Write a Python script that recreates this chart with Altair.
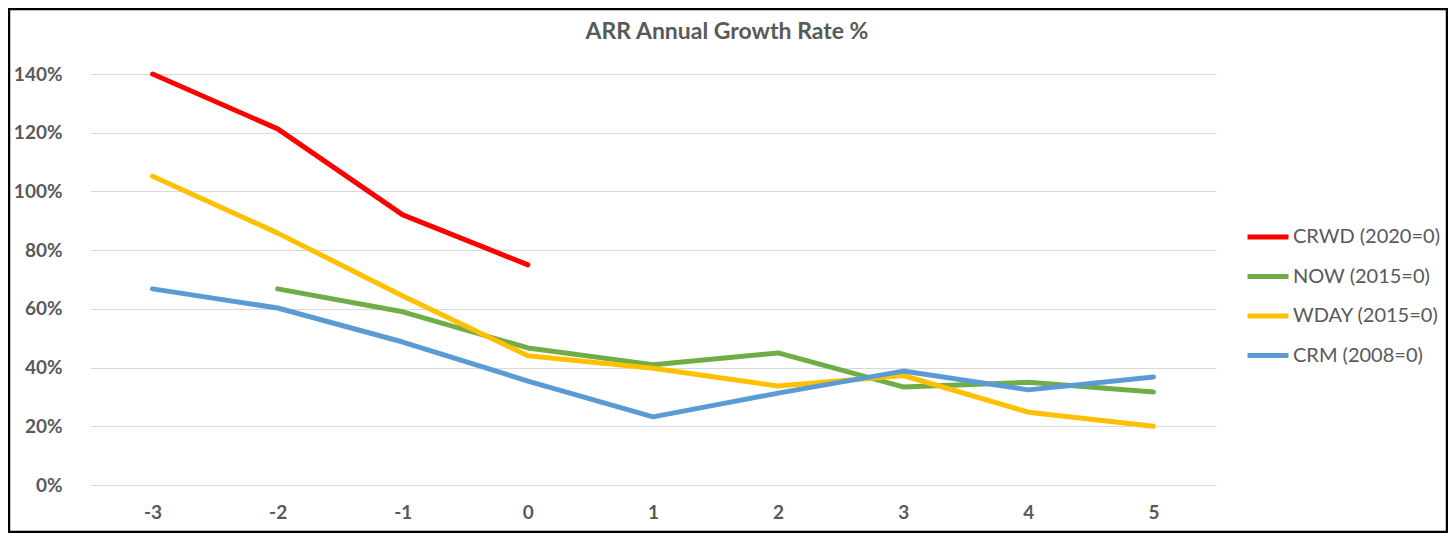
import altair as alt
import pandas as pd

categories = ["-3", "-2", "-1", "0", "1", "2", "3", "4", "5"]
series_names = ["CRWD (2020=0)", "NOW (2015=0)", "WDAY (2015=0)", "CRM (2008=0)"]
crwd = [1.40, 1.213, 0.92, 0.75, None, None, None, None, None]
now = [None, 0.668, 0.59, 0.467, 0.41, 0.45, 0.334, 0.35, 0.317]
wday = [1.052, 0.858, 0.644, 0.44, 0.398, 0.337, 0.373, 0.248, 0.20]
crm = [0.668, 0.603, 0.487, 0.354, 0.232, 0.313, 0.388, 0.324, 0.368]
colors = ["#FF0000", "#70AD47", "#FFC000", "#5B9BD5"]
title_text = "ARR Annual Growth Rate %"

rows = []
for name, vals in zip(series_names, [crwd, now, wday, crm]):
    for c, v in zip(categories, vals):
        if v is not None:
            rows.append({"period": c, "series": name, "value": v})
df = pd.DataFrame(rows)

FONT = "Lato"
GREY = "#595959"

lines = alt.Chart(df).mark_line(strokeWidth=5, strokeCap="round", strokeJoin="round").encode(
    x=alt.X("period:N", sort=categories,
            scale=alt.Scale(type="point", padding=0.5),
            axis=alt.Axis(title=None, labelAngle=0, domain=False, ticks=False,
                          labelPadding=18, labelFontSize=19, labelFontWeight="bold",
                          labelColor=GREY, labelFont=FONT, grid=False)),
    y=alt.Y("value:Q", scale=alt.Scale(domain=[0, 1.4], nice=False),
            axis=alt.Axis(title=None, format=".0%", values=[0, 0.2, 0.4, 0.6, 0.8, 1.0, 1.2, 1.4],
                          domain=False, ticks=False, labelPadding=28, labelFontSize=19,
                          labelFontWeight="bold", labelColor=GREY, labelFont=FONT,
                          gridColor="#D9D9D9", gridWidth=1)),
    color=alt.Color("series:N", sort=series_names,
                    scale=alt.Scale(domain=series_names, range=colors),
                    legend=alt.Legend(title=None, orient="none", legendX=1155, legendY=140,
                                      symbolType="stroke", symbolSize=1681, symbolStrokeWidth=5,
                                      labelFontSize=20, labelColor=GREY, labelFont=FONT,
                                      labelOffset=2, rowPadding=6.5)),
    detail="series:N",
)

title = alt.Chart(pd.DataFrame({"t": [title_text]})).mark_text(
    font=FONT, fontSize=23, fontWeight="bold", color=GREY, align="center", baseline="middle"
).encode(text="t:N", x=alt.value(637), y=alt.value(-42))

border = alt.Chart(pd.DataFrame({"a": [0]})).mark_rect(
    fill=None, stroke="black", strokeWidth=2.5
).encode(x=alt.value(-81), x2=alt.value(1357), y=alt.value(-65), y2=alt.value(458))

chart = alt.layer(lines, title, border).properties(
    width=1126, height=411,
    autosize=alt.AutoSizeParams(type="none"),
    padding={"left": 82, "top": 66, "right": 232, "bottom": 48},
).configure(background="white").configure_view(stroke=None)

chart.save("out.html", embed_options={"renderer": "svg", "actions": False})
